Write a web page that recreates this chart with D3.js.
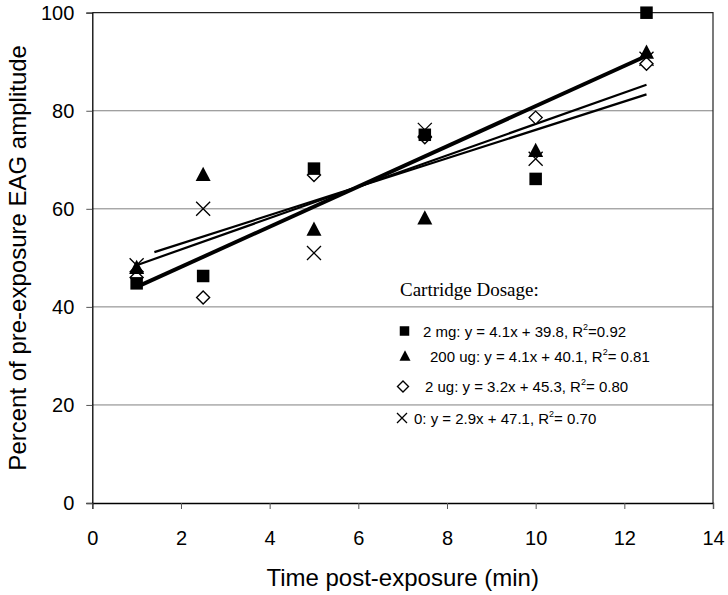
<!DOCTYPE html>
<html>
<head>
<meta charset="utf-8">
<script src="https://cdn.jsdelivr.net/npm/d3@7"></script>
<style>
  body { margin: 0; background: #fff; }
  svg { display: block; }
  text { fill: #000; }
</style>
</head>
<body>
<svg id="chart"></svg>
<script>
// Data
const times = [1, 2.5, 5, 7.5, 10, 12.5];
const series = ["2 mg", "200 ug", "2 ug", "0"];
const mg2 = [44.8, 46.3, 68.2, 75.1, 66.1, 100];
const ug200 = [48.0, 67.0, 55.8, 58.1, 71.9, 91.9];
const ug2 = [46.0, 41.9, 66.9, 74.6, 78.6, 89.6];
const zero = [48.5, 60.0, 51.0, 76.1, 70.2, 90.6];
const slopes = [4.1, 4.1, 3.2, 2.9];
const intercepts = [39.8, 40.1, 45.3, 47.1];
const r2 = ["0.92", "0.81", "0.80", "0.70"];
const trendStart = [1, 1, 1, 1.4];
const trendEnd = [12.5, 12.5, 12.5, 12.5];
const xTicks = [0, 2, 4, 6, 8, 10, 12, 14];
const yTicks = [0, 20, 40, 60, 80, 100];

const values = [mg2, ug200, ug2, zero];
const shapes = ["square", "triangle", "diamond", "cross"];

const sans = "'Liberation Sans', Arial, sans-serif";
const serif = "'Liberation Serif', 'Times New Roman', serif";

let width = 728;
let height = 595;
let margin = { top: 12.7, right: 15, bottom: 92, left: 92.3 };

const svg = d3.select("#chart")
    .attr("width", width)
    .attr("height", height)
    .style("font-family", sans);

const x = d3.scaleLinear()
    .domain([0, 14])
    .range([margin.left, width - margin.right]);

const y = d3.scaleLinear()
    .domain([0, 100])
    .range([height - margin.bottom, margin.top]);

// gridlines
svg.append("g")
    .selectAll("line")
    .data(yTicks.filter(d => d > 0 && d < 100))
    .join("line")
    .attr("x1", x(0))
    .attr("x2", x(14))
    .attr("y1", d => y(d))
    .attr("y2", d => y(d))
    .attr("stroke", "#808080")
    .attr("stroke-width", 1);

// frame top + right
svg.append("path")
    .attr("d", `M${x(0)},${y(100)}H${x(14)}V${y(0)}`)
    .attr("fill", "none")
    .attr("stroke", "#222")
    .attr("stroke-width", 1.2);

// axes
const yAxis = svg.append("g")
    .attr("transform", `translate(${x(0)},0)`)
    .call(d3.axisLeft(y).tickValues(yTicks).tickSize(6).tickPadding(12));

const xAxis = svg.append("g")
    .attr("transform", `translate(0,${y(0)})`)
    .call(d3.axisBottom(x).tickValues(xTicks).tickSize(6).tickPadding(22));

[yAxis, xAxis].forEach(g => {
    g.attr("font-family", null).attr("font-size", null);
    g.select(".domain").attr("stroke", "#000").attr("stroke-width", 1.3);
    g.selectAll(".tick line").attr("stroke", "#555");
    g.selectAll(".tick text")
        .style("font-family", sans)
        .style("font-size", "20px")
        .attr("fill", "#000");
});

// axis titles
svg.append("text")
    .attr("x", (x(0) + x(14)) / 2)
    .attr("y", 586)
    .attr("text-anchor", "middle")
    .style("font-size", "24px")
    .text("Time post-exposure (min)");

svg.append("text")
    .attr("transform", `translate(26,${(y(0) + y(100)) / 2}) rotate(-90)`)
    .attr("text-anchor", "middle")
    .style("font-size", "24px")
    .text("Percent of pre-exposure EAG amplitude");

// trend lines
const trendWidth = [2.6, 2.6, 2.2, 2.2];
svg.append("g")
    .selectAll("line")
    .data(series.map((s, i) => i))
    .join("line")
    .attr("x1", i => x(trendStart[i]))
    .attr("y1", i => y(slopes[i] * trendStart[i] + intercepts[i]))
    .attr("x2", i => x(trendEnd[i]))
    .attr("y2", i => y(slopes[i] * trendEnd[i] + intercepts[i]))
    .attr("stroke", "#000")
    .attr("stroke-width", i => trendWidth[i]);

// marker drawing
function drawMarker(g, shape, s) {
    if (shape === "square") {
        g.append("rect")
            .attr("x", -s / 2).attr("y", -s / 2)
            .attr("width", s).attr("height", s)
            .attr("fill", "#000");
    } else if (shape === "triangle") {
        let h = s * 0.95;
        g.append("path")
            .attr("d", `M0,${-h * 0.55}L${s / 2},${h * 0.45}L${-s / 2},${h * 0.45}Z`)
            .attr("fill", "#000");
    } else if (shape === "diamond") {
        let r = s / 2;
        g.append("path")
            .attr("d", `M0,${-r}L${r},0L0,${r}L${-r},0Z`)
            .attr("fill", "#fff")
            .attr("stroke", "#000")
            .attr("stroke-width", 1.4);
    } else {
        let r = s / 2;
        g.append("path")
            .attr("d", `M${-r},${-r}L${r},${r}M${r},${-r}L${-r},${r}`)
            .attr("fill", "none")
            .attr("stroke", "#000")
            .attr("stroke-width", 1.3);
    }
}

const markerSize = [12.5, 15, 13, 14];

// points: draw in reverse so squares sit on top
[3, 2, 1, 0].forEach(i => {
    times.forEach((t, j) => {
        let g = svg.append("g")
            .attr("transform", `translate(${x(t)},${y(values[i][j])})`);
        drawMarker(g, shapes[i], markerSize[i]);
    });
});

// legend
const legend = svg.append("g");
legend.append("text")
    .attr("x", 400)
    .attr("y", 296)
    .style("font-family", serif)
    .style("font-size", "19px")
    .text("Cartridge Dosage:");

const legendRows = [
    { y: 331, mx: 404.5, tx: 423, eq: "=" },
    { y: 356, mx: 405, tx: 430, eq: "= " },
    { y: 386.5, mx: 403, tx: 425, eq: "= " },
    { y: 418, mx: 402, tx: 414, eq: "= " }
];
const legendMarker = [9.5, 11, 11, 10];

series.forEach((s, i) => {
    let row = legendRows[i];
    let g = legend.append("g").attr("transform", `translate(${row.mx},${row.y})`);
    drawMarker(g, shapes[i], legendMarker[i]);

    let t = legend.append("text")
        .attr("x", row.tx)
        .attr("y", row.y + 5.5)
        .style("font-size", "15px");
    t.append("tspan").text(`${s}: y = ${slopes[i]}x + ${intercepts[i]}, R`);
    t.append("tspan").style("font-size", "9px").attr("dy", -7).text("2");
    t.append("tspan").attr("dy", 7).text(row.eq + r2[i]);
});
</script>
</body>
</html>
